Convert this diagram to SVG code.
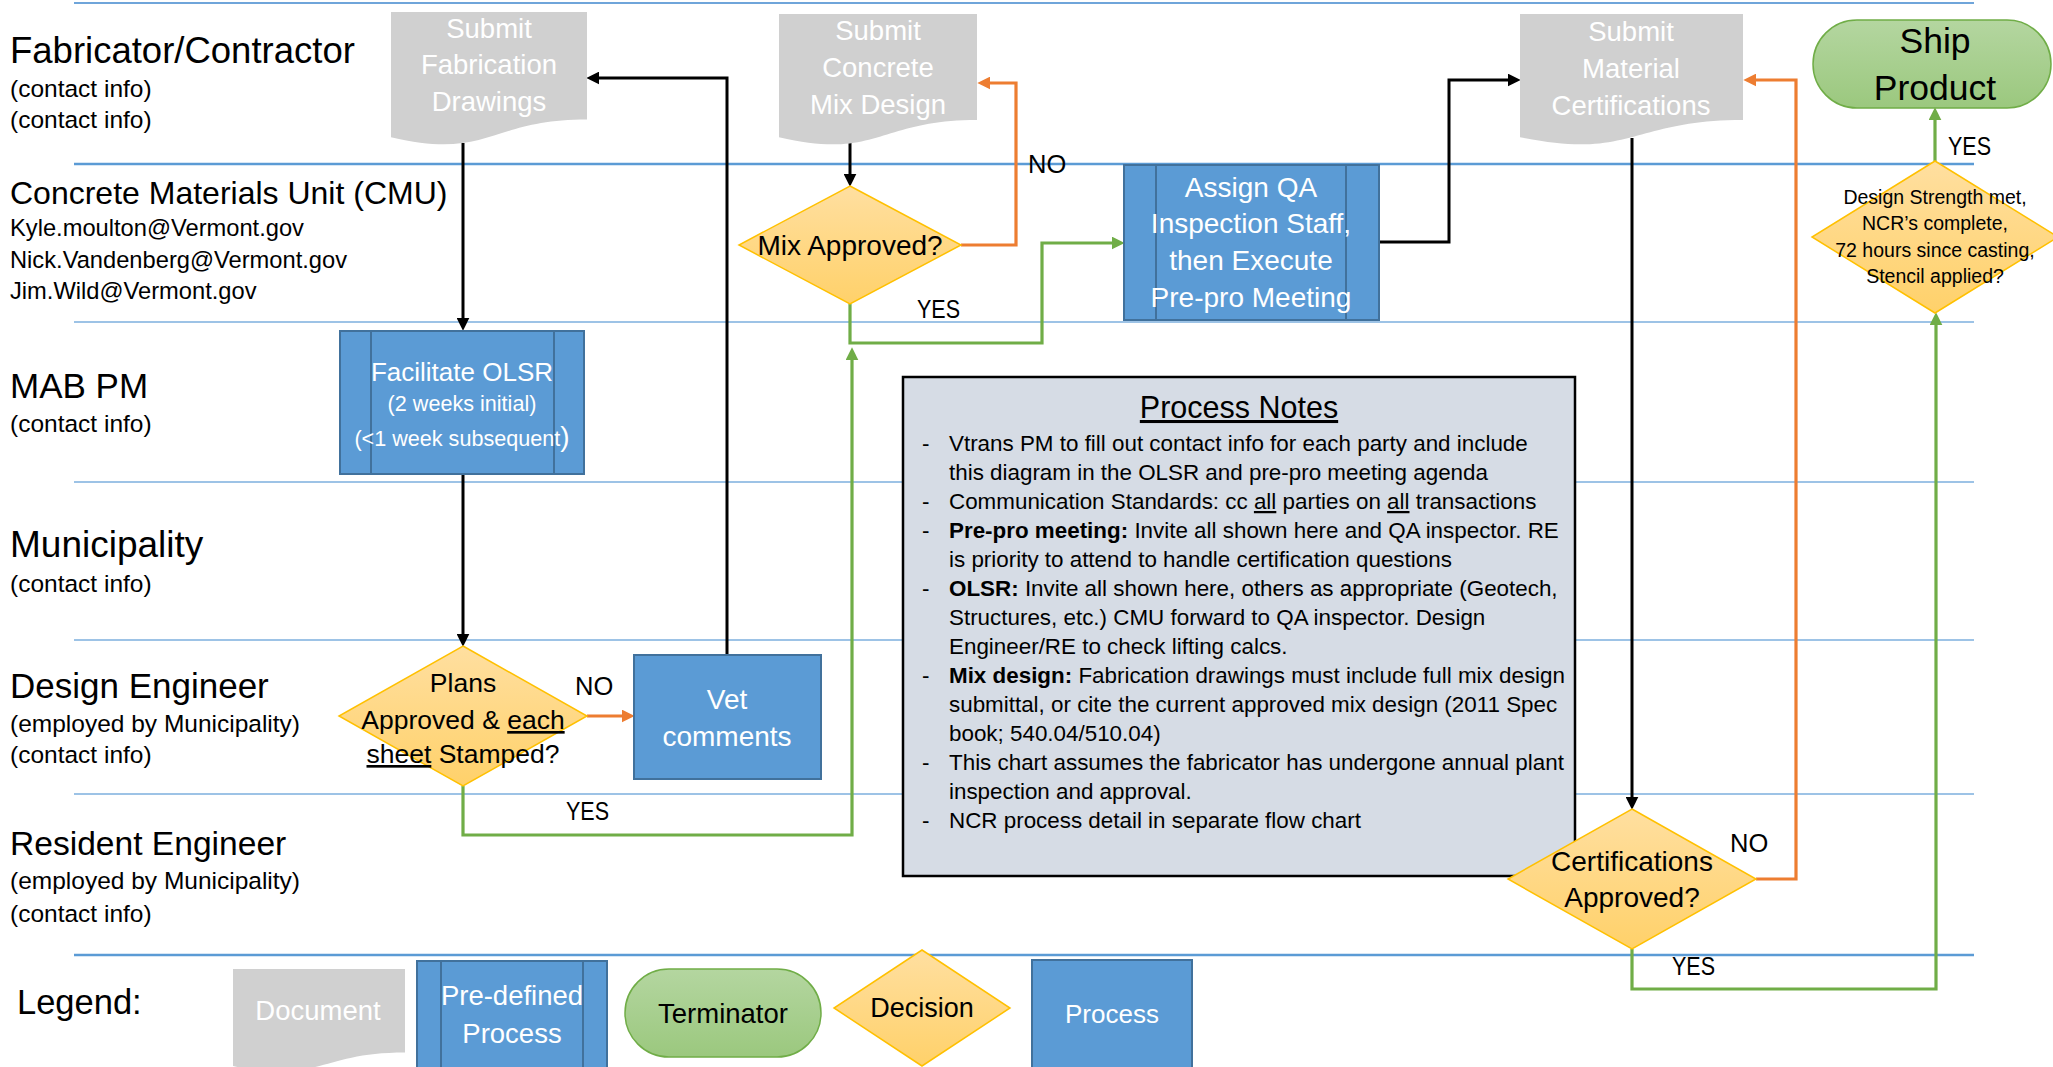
<svg xmlns="http://www.w3.org/2000/svg" width="2053" height="1067" viewBox="0 0 2053 1067">
<style>
text { font-family: "Liberation Sans", Arial, sans-serif; fill: #000; }
.lane { stroke: #9DC3E6; stroke-width: 2; }
.laneD { stroke: #5B9BD5; stroke-width: 2.5; }
.sub { font-size: 24.5px; }
.mail { font-size: 23.7px; }
.doc { fill: #D0D0D0; }
.wt { fill: #FFFFFF; text-anchor: middle; }
.ct { text-anchor: middle; }
.proc { fill: #5B9BD5; stroke: #41719C; stroke-width: 2; }
.pline { stroke: #41719C; stroke-width: 2; }
.dec { fill: url(#gDec); stroke: #FFC000; stroke-width: 1.5; }
.term { fill: url(#gTerm); stroke: #70AD47; stroke-width: 1.5; }
.cb { fill: none; stroke: #000; stroke-width: 3; }
.co { fill: none; stroke: #ED7D31; stroke-width: 3.2; }
.cg { fill: none; stroke: #70AD47; stroke-width: 3.2; }
.lbl { font-size: 25.5px; }
.note { font-size: 22.4px; }
.u { text-decoration: underline; }
.b { font-weight: bold; }
</style>
<defs>
<linearGradient id="gDec" x1="0" y1="0" x2="0" y2="1">
<stop offset="0" stop-color="#FFDFA0"/>
<stop offset="1" stop-color="#FFD16A"/>
</linearGradient>
<linearGradient id="gTerm" x1="0" y1="0" x2="0" y2="1">
<stop offset="0" stop-color="#B4D6A0"/>
<stop offset="1" stop-color="#9BC87E"/>
</linearGradient>
<marker id="aB" markerUnits="userSpaceOnUse" markerWidth="13" markerHeight="13" viewBox="0 0 12 12" refX="4" refY="6" orient="auto"><path d="M0,0 L12,6 L0,12 Z" fill="#000"/></marker>
<marker id="aO" markerUnits="userSpaceOnUse" markerWidth="13" markerHeight="13" viewBox="0 0 12 12" refX="4" refY="6" orient="auto"><path d="M0,0 L12,6 L0,12 Z" fill="#ED7D31"/></marker>
<marker id="aG" markerUnits="userSpaceOnUse" markerWidth="13" markerHeight="13" viewBox="0 0 12 12" refX="4" refY="6" orient="auto"><path d="M0,0 L12,6 L0,12 Z" fill="#70AD47"/></marker>
</defs>

<g id="lanes">
<line class="laneD" x1="74" y1="3" x2="1974" y2="3" style="stroke:#6FA5DA;stroke-width:2"/>
<line class="laneD" x1="74" y1="164" x2="1974" y2="164"/>
<line class="lane" x1="74" y1="322" x2="1974" y2="322"/>
<line class="lane" x1="74" y1="482" x2="1974" y2="482"/>
<line class="lane" x1="74" y1="640" x2="1974" y2="640"/>
<line class="lane" x1="74" y1="794" x2="1974" y2="794"/>
<line class="laneD" x1="74" y1="955" x2="1974" y2="955"/>
</g>

<g id="lane-labels">
<text x="10" y="63" style="font-size:36.5px">Fabricator/Contractor</text>
<text class="sub" x="10" y="97">(contact info)</text>
<text class="sub" x="10" y="128">(contact info)</text>
<text x="10" y="204" style="font-size:32px">Concrete Materials Unit (CMU)</text>
<text class="mail" x="10" y="236">Kyle.moulton@Vermont.gov</text>
<text class="mail" x="10" y="268">Nick.Vandenberg@Vermont.gov</text>
<text class="mail" x="10" y="299">Jim.Wild@Vermont.gov</text>
<text x="10" y="398" style="font-size:35px">MAB PM</text>
<text class="sub" x="10" y="432">(contact info)</text>
<text x="10" y="557" style="font-size:37px">Municipality</text>
<text class="sub" x="10" y="592">(contact info)</text>
<text x="10" y="698" style="font-size:35px">Design Engineer</text>
<text class="sub" x="10" y="732">(employed by Municipality)</text>
<text class="sub" x="10" y="763">(contact info)</text>
<text x="10" y="855" style="font-size:33.6px">Resident Engineer</text>
<text class="sub" x="10" y="889">(employed by Municipality)</text>
<text class="sub" x="10" y="922">(contact info)</text>
<text x="17" y="1014" style="font-size:34.5px">Legend:</text>
</g>

<g id="notes">
<rect x="903" y="377" width="672" height="499" fill="#D6DCE5" stroke="#000" stroke-width="2.5"/>
<text class="ct u" x="1239" y="418" style="font-size:30.5px">Process Notes</text>
<g class="note">
<text x="922" y="451">-</text>
<text x="949" y="451">Vtrans PM to fill out contact info for each party and include</text>
<text x="949" y="480">this diagram in the OLSR and pre-pro meeting agenda</text>
<text x="922" y="509">-</text>
<text x="949" y="509">Communication Standards: cc <tspan class="u">all</tspan> parties on <tspan class="u">all</tspan> transactions</text>
<text x="922" y="538">-</text>
<text x="949" y="538"><tspan class="b">Pre-pro meeting:</tspan> Invite all shown here and QA inspector. RE</text>
<text x="949" y="567">is priority to attend to handle certification questions</text>
<text x="922" y="596">-</text>
<text x="949" y="596"><tspan class="b">OLSR:</tspan> Invite all shown here, others as appropriate (Geotech,</text>
<text x="949" y="625">Structures, etc.) CMU forward to QA inspector. Design</text>
<text x="949" y="654">Engineer/RE to check lifting calcs.</text>
<text x="922" y="683">-</text>
<text x="949" y="683"><tspan class="b">Mix design:</tspan> Fabrication drawings must include full mix design</text>
<text x="949" y="712">submittal, or cite the current approved mix design (2011 Spec</text>
<text x="949" y="741">book; 540.04/510.04)</text>
<text x="922" y="770">-</text>
<text x="949" y="770">This chart assumes the fabricator has undergone annual plant</text>
<text x="949" y="799">inspection and approval.</text>
<text x="922" y="828">-</text>
<text x="949" y="828">NCR process detail in separate flow chart</text>
</g>
</g>

<g id="connectors">
<path class="cb" d="M463,143 V322" marker-end="url(#aB)"/>
<path class="cb" d="M463,474 V638" marker-end="url(#aB)"/>
<path class="co" d="M587,716 H626" marker-end="url(#aO)"/>
<path class="cb" d="M727,655 V78 H595" marker-end="url(#aB)"/>
<path class="cg" d="M463,786 V835 H852 V356" marker-end="url(#aG)"/>
<path class="cg" d="M850,304 V343 H1042 V243 H1116" marker-end="url(#aG)"/>
<path class="co" d="M961,245 H1016 V83 H986" marker-end="url(#aO)"/>
<path class="cb" d="M850,143 V178" marker-end="url(#aB)"/>
<path class="cb" d="M1379,242 H1449 V80 H1512" marker-end="url(#aB)"/>
<path class="cb" d="M1632,138 V801" marker-end="url(#aB)"/>
<path class="co" d="M1756,879 H1796 V80 H1752" marker-end="url(#aO)"/>
<path class="cg" d="M1632,949 V989 H1936 V321" marker-end="url(#aG)"/>
<path class="cg" d="M1935,161 V116" marker-end="url(#aG)"/>
<text class="lbl" x="1028" y="173">NO</text>
<text class="lbl" x="917" y="318" textLength="43" lengthAdjust="spacingAndGlyphs">YES</text>
<text class="lbl" x="575" y="695">NO</text>
<text class="lbl" x="566" y="820" textLength="43" lengthAdjust="spacingAndGlyphs">YES</text>
<text class="lbl" x="1730" y="852">NO</text>
<text class="lbl" x="1672" y="975" textLength="43" lengthAdjust="spacingAndGlyphs">YES</text>
<text class="lbl" x="1948" y="155" textLength="43" lengthAdjust="spacingAndGlyphs">YES</text>
</g>

<g id="submit-fabrication-drawings">
<path class="doc" d="M391,12 H587 V119.5 C489,119.5 489,160.4 391,137.2 Z"/>
<text class="wt" x="489" y="38" style="font-size:27.5px">Submit</text>
<text class="wt" x="489" y="74" style="font-size:27.5px">Fabrication</text>
<text class="wt" x="489" y="111" style="font-size:27.5px">Drawings</text>
</g>

<g id="submit-concrete-mix-design">
<path class="doc" d="M779,14 H977 V119.9 C878,119.9 878,160.2 779,137.3 Z"/>
<text class="wt" x="878" y="40" style="font-size:27.5px">Submit</text>
<text class="wt" x="878" y="77" style="font-size:27.5px">Concrete</text>
<text class="wt" x="878" y="114" style="font-size:27.5px">Mix Design</text>
</g>

<g id="submit-material-certifications">
<path class="doc" d="M1520,14 H1743 V119.9 C1631.5,119.9 1631.5,160.2 1520,137.3 Z"/>
<text class="wt" x="1631" y="41" style="font-size:27.5px">Submit</text>
<text class="wt" x="1631" y="78" style="font-size:27.5px">Material</text>
<text class="wt" x="1631" y="115" style="font-size:27.5px">Certifications</text>
</g>

<g id="ship-product">
<rect class="term" x="1813" y="20" width="238" height="88" rx="44" ry="44"/>
<text class="ct" x="1935" y="53" style="font-size:35.5px">Ship</text>
<text class="ct" x="1935" y="100" style="font-size:35.5px">Product</text>
</g>

<g id="mix-approved">
<polygon class="dec" points="850,186 961,245 850,304 739,245"/>
<text class="ct" x="850" y="255" style="font-size:28px">Mix Approved?</text>
</g>

<g id="assign-qa">
<rect class="proc" x="1124" y="165" width="255" height="155"/>
<line class="pline" x1="1156" y1="165" x2="1156" y2="320"/>
<line class="pline" x1="1346" y1="165" x2="1346" y2="320"/>
<text class="wt" x="1251" y="197" style="font-size:28px">Assign QA</text>
<text class="wt" x="1251" y="233" style="font-size:28px">Inspection Staff,</text>
<text class="wt" x="1251" y="270" style="font-size:28px">then Execute</text>
<text class="wt" x="1251" y="307" style="font-size:28px">Pre-pro Meeting</text>
</g>

<g id="design-strength">
<polygon class="dec" points="1935,161 2058,237 1935,313 1812,237"/>
<text class="ct" x="1935" y="204" style="font-size:19.5px">Design Strength met,</text>
<text class="ct" x="1935" y="230" style="font-size:19.5px">NCR’s complete,</text>
<text class="ct" x="1935" y="257" style="font-size:19.5px">72 hours since casting,</text>
<text class="ct" x="1935" y="283" style="font-size:19.5px">Stencil applied?</text>
</g>

<g id="facilitate-olsr">
<rect class="proc" x="340" y="331" width="244" height="143"/>
<line class="pline" x1="371" y1="331" x2="371" y2="474"/>
<line class="pline" x1="554" y1="331" x2="554" y2="474"/>
<text class="wt" x="462" y="381" style="font-size:26px">Facilitate OLSR</text>
<text class="wt" x="462" y="411" style="font-size:21.6px">(2 weeks initial)</text>
<text class="wt" x="462" y="446" style="font-size:21.6px">(&lt;1 week subsequent<tspan style="font-size:28px">)</tspan></text>
</g>

<g id="plans-approved">
<polygon class="dec" points="463,646 587,716 463,786 339,716"/>
<text class="ct" x="463" y="692" style="font-size:26.5px">Plans</text>
<text class="ct" x="463" y="729" style="font-size:26.5px">Approved &amp; <tspan class="u">each</tspan></text>
<text class="ct" x="463" y="763" style="font-size:26.5px"><tspan class="u">sheet</tspan> Stamped?</text>
</g>

<g id="vet-comments">
<rect class="proc" x="634" y="655" width="187" height="124"/>
<text class="wt" x="727" y="709" style="font-size:28px">Vet</text>
<text class="wt" x="727" y="746" style="font-size:28px">comments</text>
</g>

<g id="certifications-approved">
<polygon class="dec" points="1632,809 1756,879 1632,949 1508,879"/>
<text class="ct" x="1632" y="871" style="font-size:28px">Certifications</text>
<text class="ct" x="1632" y="907" style="font-size:28px">Approved?</text>
</g>

<g id="legend">
<g id="legend-document">
<path class="doc" d="M233,969 H405 V1052.4 C319,1052.4 319,1084.2 233,1066.1 Z"/>
<text class="wt" x="318" y="1020" style="font-size:27.5px">Document</text>
</g>
<g id="legend-predefined">
<rect class="proc" x="417" y="961" width="190" height="112"/>
<line class="pline" x1="441" y1="961" x2="441" y2="1073"/>
<line class="pline" x1="583" y1="961" x2="583" y2="1073"/>
<text class="wt" x="512" y="1005" style="font-size:27.5px">Pre-defined</text>
<text class="wt" x="512" y="1043" style="font-size:27.5px">Process</text>
</g>
<g id="legend-terminator">
<rect class="term" x="625" y="969" width="196" height="88" rx="44" ry="44"/>
<text class="ct" x="723" y="1023" style="font-size:27.5px">Terminator</text>
</g>
<g id="legend-decision">
<polygon class="dec" points="922,950 1010,1008 922,1066 834,1008"/>
<text class="ct" x="922" y="1017" style="font-size:27px">Decision</text>
</g>
<g id="legend-process">
<rect class="proc" x="1032" y="960" width="160" height="108"/>
<text class="wt" x="1112" y="1023" style="font-size:26px">Process</text>
</g>
</g>
</svg>
